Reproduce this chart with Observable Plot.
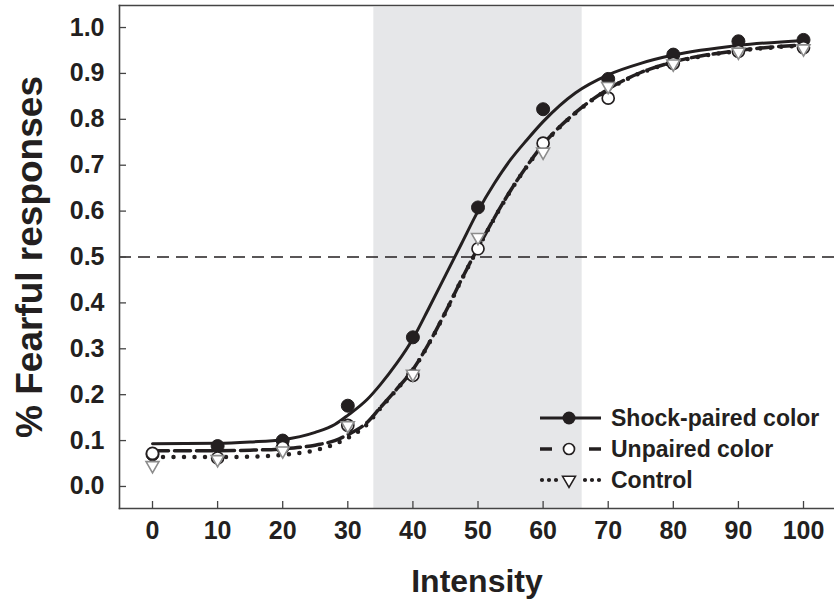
<!DOCTYPE html>
<html><head><meta charset="utf-8">
<script src="https://cdn.jsdelivr.net/npm/d3@7"></script>
<script src="https://cdn.jsdelivr.net/npm/@observablehq/plot@0.6"></script>
<style>
html,body{margin:0;padding:0;background:#fff}
#wrap{position:relative;width:834px;height:603px}
#legend{position:absolute;left:0;top:0;pointer-events:none}
</style></head><body>
<div id="wrap"></div>
<script>
// ---- data ----
const intensity = [0, 10, 20, 30, 40, 50, 60, 70, 80, 90, 100];
const shockPaired   = [0.070, 0.088, 0.100, 0.176, 0.325, 0.608, 0.822, 0.888, 0.941, 0.970, 0.973];
const unpairedColor = [0.072, 0.062, 0.085, 0.133, 0.242, 0.518, 0.748, 0.846, 0.922, 0.948, 0.956];
const controlGroup  = [0.046, 0.059, 0.078, 0.133, 0.245, 0.543, 0.729, 0.872, 0.921, 0.947, 0.954];

// fitted curves
const fitX        = [0, 10, 15, 20, 25, 28, 30, 33, 35, 37.5, 40, 42.5, 45, 47.5, 50, 52.5, 55, 57.5, 60, 65, 70, 75, 80, 90, 100];
const fitShock    = [0.093, 0.094, 0.097, 0.102, 0.118, 0.135, 0.155, 0.190, 0.222, 0.268, 0.322, 0.390, 0.460, 0.530, 0.600, 0.660, 0.712, 0.755, 0.795, 0.858, 0.897, 0.922, 0.940, 0.961, 0.972];
const fitUnpaired = [0.078, 0.078, 0.079, 0.082, 0.090, 0.100, 0.113, 0.140, 0.172, 0.212, 0.255, 0.313, 0.380, 0.452, 0.520, 0.585, 0.645, 0.698, 0.745, 0.815, 0.866, 0.902, 0.925, 0.950, 0.962];
const fitControl  = [0.064, 0.064, 0.065, 0.069, 0.079, 0.092, 0.106, 0.136, 0.170, 0.211, 0.254, 0.312, 0.379, 0.451, 0.519, 0.584, 0.644, 0.697, 0.744, 0.814, 0.865, 0.901, 0.924, 0.949, 0.961];

const xTicks = [0, 10, 20, 30, 40, 50, 60, 70, 80, 90, 100];
const yTicks = [0, 0.1, 0.2, 0.3, 0.4, 0.5, 0.6, 0.7, 0.8, 0.9, 1.0];
const shadeBand = [34, 66];
const threshold = 0.5;
const seriesNames = ["Shock-paired color", "Unpaired color", "Control"];
const xTitle = "Intensity";
const yTitle = "% Fearful responses";

// ---- tables ----
const pts = vals => intensity.map((x, i) => ({x, y: vals[i]}));
const fit = vals => fitX.map((x, i) => ({x, y: vals[i]}));

const ink = "#231f20";
const frameInk = "#444";
const triInk = "#8c8c8c";
const font = "'Liberation Sans', Arial, Helvetica, sans-serif";

const chart = Plot.plot({
  width: 834, height: 603,
  marginLeft: 119, marginRight: 0, marginTop: 5, marginBottom: 95,
  style: {fontFamily: font, color: ink, background: "#fff", overflow: "visible"},
  x: {domain: [-5.07, 104.76]},
  y: {domain: [-0.048, 1.048]},
  marks: [
    Plot.rect([shadeBand], {x1: d => d[0], x2: d => d[1], fill: "#e6e7e9", insetTop: 2}),
    Plot.ruleY([threshold], {stroke: ink, strokeWidth: 1.6, strokeDasharray: "12 7"}),
    Plot.line(fit(fitControl), {x: "x", y: "y", curve: "monotone-x", stroke: ink, strokeWidth: 4.5, strokeDasharray: "0 10.5", strokeLinecap: "round"}),
    Plot.line(fit(fitUnpaired), {x: "x", y: "y", curve: "monotone-x", stroke: ink, strokeWidth: 3.5, strokeDasharray: "16 6"}),
    Plot.line(fit(fitShock), {x: "x", y: "y", curve: "monotone-x", stroke: ink, strokeWidth: 3}),
    Plot.dot(pts(shockPaired), {x: "x", y: "y", r: 6.5, fill: ink, stroke: ink, strokeWidth: 1}),
    Plot.dot(pts(unpairedColor), {x: "x", y: "y", r: 6, fill: "#fff", stroke: ink, strokeWidth: 1.7}),
    Plot.dot(pts(controlGroup), {x: "x", y: "y", symbol: "triangle", r: 4.8, rotate: 180, fill: "#fff", stroke: triInk, strokeWidth: 1.6}),
    Plot.frame({anchor: "left", stroke: frameInk, strokeWidth: 1.6}),
    Plot.frame({anchor: "top", stroke: frameInk, strokeWidth: 1.6}),
    Plot.frame({anchor: "bottom", stroke: frameInk, strokeWidth: 1.6}),
    Plot.axisY({ticks: yTicks, tickSize: 7, dx: 7, tickFormat: () => "", stroke: frameInk, strokeWidth: 1.3, label: null}),
    Plot.axisX({ticks: xTicks, tickSize: 7, dy: -7, tickFormat: () => "", stroke: frameInk, strokeWidth: 1.3, label: null}),
    Plot.axisY({ticks: yTicks, tickSize: 0, tickPadding: 15, tickFormat: d3.format(".1f"), fontSize: 25, fontWeight: "bold", fill: ink, label: null}),
    Plot.axisX({ticks: xTicks, tickSize: 0, tickPadding: 13, tickFormat: d3.format("d"), fontSize: 25, fontWeight: "bold", fill: ink, label: null}),
    Plot.text([yTitle], {text: d => d, frameAnchor: "left", textAnchor: "middle", lineAnchor: "middle", dx: -89, rotate: -90, fontSize: 37, fontWeight: "bold", fill: ink}),
    Plot.text([xTitle], {text: d => d, frameAnchor: "bottom", textAnchor: "middle", lineAnchor: "middle", dy: 73, fontSize: 32, fontWeight: "bold", fill: ink})
  ]
});
const wrap = document.getElementById("wrap");
wrap.appendChild(chart);

// ---- legend overlay ----
const lg = d3.select(wrap).append("svg").attr("id", "legend").attr("width", 834).attr("height", 603);
const rowsY = [418, 449, 480];
const sx0 = 540, sx1 = 601, mx = 569, tx = 611;
seriesNames.forEach((name, i) => {
  const y = rowsY[i];
  const g = lg.append("g");
  if (i === 0) {
    g.append("line").attr("x1", sx0).attr("x2", sx1).attr("y1", y).attr("y2", y).attr("stroke", ink).attr("stroke-width", 3);
    g.append("circle").attr("cx", mx).attr("cy", y).attr("r", 6.5).attr("fill", ink);
  } else if (i === 1) {
    g.append("line").attr("x1", sx0).attr("x2", sx0 + 12).attr("y1", y).attr("y2", y).attr("stroke", ink).attr("stroke-width", 3.5);
    g.append("line").attr("x1", sx1 - 12).attr("x2", sx1).attr("y1", y).attr("y2", y).attr("stroke", ink).attr("stroke-width", 3.5);
    g.append("circle").attr("cx", mx).attr("cy", y).attr("r", 5.5).attr("fill", "#fff").attr("stroke", ink).attr("stroke-width", 1.7);
  } else {
    g.append("line").attr("x1", sx0 + 2).attr("x2", sx0 + 18).attr("y1", y).attr("y2", y).attr("stroke", ink).attr("stroke-width", 4.2).attr("stroke-dasharray", "0 7").attr("stroke-linecap", "round");
    g.append("line").attr("x1", sx1 - 16).attr("x2", sx1).attr("y1", y).attr("y2", y).attr("stroke", ink).attr("stroke-width", 4.2).attr("stroke-dasharray", "0 7").attr("stroke-linecap", "round");
    g.append("path").attr("d", d3.symbol(d3.symbolTriangle, 72)()).attr("transform", `translate(${mx},${y}) rotate(180)`).attr("fill", "#fff").attr("stroke", ink).attr("stroke-width", 1.6);
  }
  g.append("text").attr("x", tx).attr("y", y).attr("dy", "0.36em").attr("font-family", font).attr("font-weight", "bold").attr("font-size", 23).attr("fill", ink).text(name);
});
</script>
</body></html>
